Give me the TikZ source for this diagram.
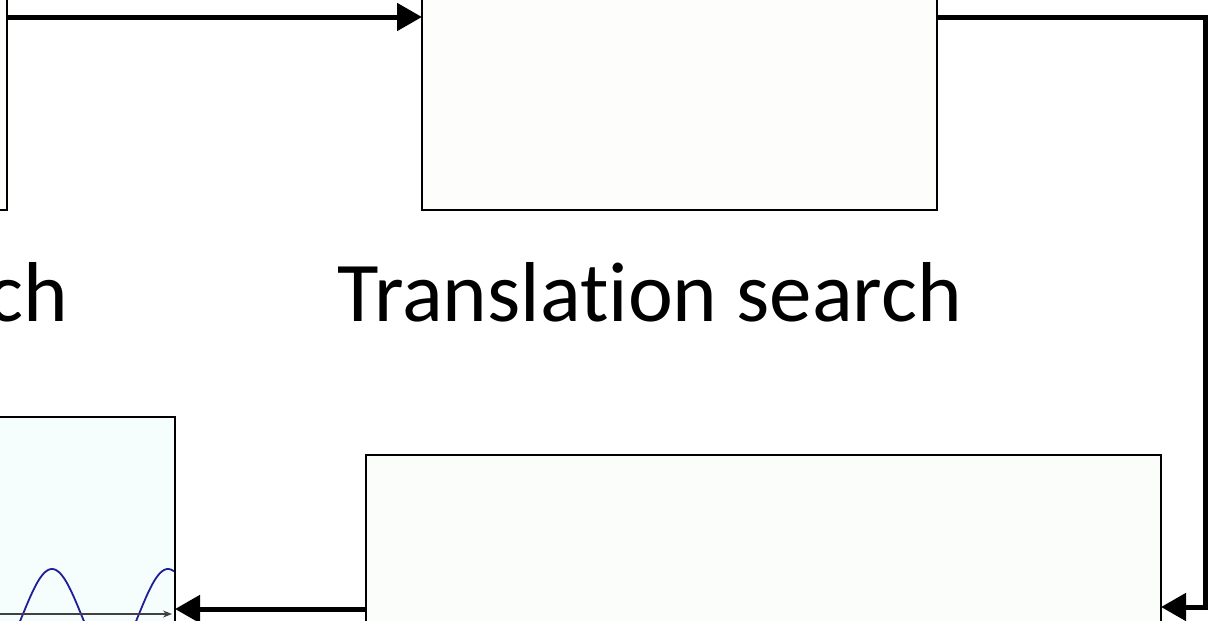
\documentclass[tikz,border=0pt]{standalone}
\usepackage{fontspec}
\setmainfont[Ligatures=NoCommon]{Carlito}
\usetikzlibrary{arrows.meta}
\definecolor{fillA}{RGB}{253,253,251}
\definecolor{fillB}{RGB}{251,253,251}
\definecolor{fillC}{RGB}{245,253,253}
\definecolor{wave}{RGB}{30,30,150}
\begin{document}
\begin{tikzpicture}[x=1pt,y=-1pt,
  box/.style={draw=black, line width=2.7pt, inner sep=0pt, outer sep=0pt},
  conn/.style={line width=5pt, -{Triangle[length=25pt,width=27pt]}},
  lbl/.style={font=\fontsize{85}{95}\selectfont, inner sep=0pt}]
\useasboundingbox (0,0) rectangle (1211,621);
\clip (0,0) rectangle (1211,621);
% boxes
\node[box, fill=fillA, minimum width=307pt, minimum height=310pt] (tl) at (-146.5,55) {};
\node[box, fill=fillA, minimum width=515pt, minimum height=310pt] (tc) at (679.5,55) {};
\node[box, fill=fillB, minimum width=795pt, minimum height=345pt] (br) at (763.5,627.5) {};
\node[box, fill=fillC, minimum width=475pt, minimum height=383pt] (bl) at (-62.5,608.5) {};
% wave inside bottom-left box
\coordinate (ax0) at (0,614);
\begin{scope}
  \clip (bl.south west) rectangle (bl.north east);
  \draw[wave, line width=1.8pt] plot[domain=0:174, samples=120, smooth] (\x, {614 - 45*cos(3.1034*(\x-52))});
  \draw[black!75, line width=1.3pt, -{Stealth[length=9pt,width=7pt]}, shorten >=3pt] (ax0) -- (bl.east |- ax0);
\end{scope}
\node[box, fill=none, minimum width=475pt, minimum height=383pt] (blb) at (-62.5,608.5) {};
% connectors
\coordinate (ya) at (0,17);
\coordinate (rc) at (1205,607);
\coordinate (yb) at (0,609);
\draw[conn] (tl.east |- ya) -- (tc.west |- ya);
\draw[conn] (tc.east |- ya) -| (rc) -- (br.east |- rc);
\draw[conn] (br.west |- yb) -- (bl.east |- yb);
% labels
\node[lbl, anchor=base] (t1) at (650,321) {Translation search};
\node[lbl, anchor=base east] (t2) at (68,321) {ch};
\end{tikzpicture}
\end{document}
